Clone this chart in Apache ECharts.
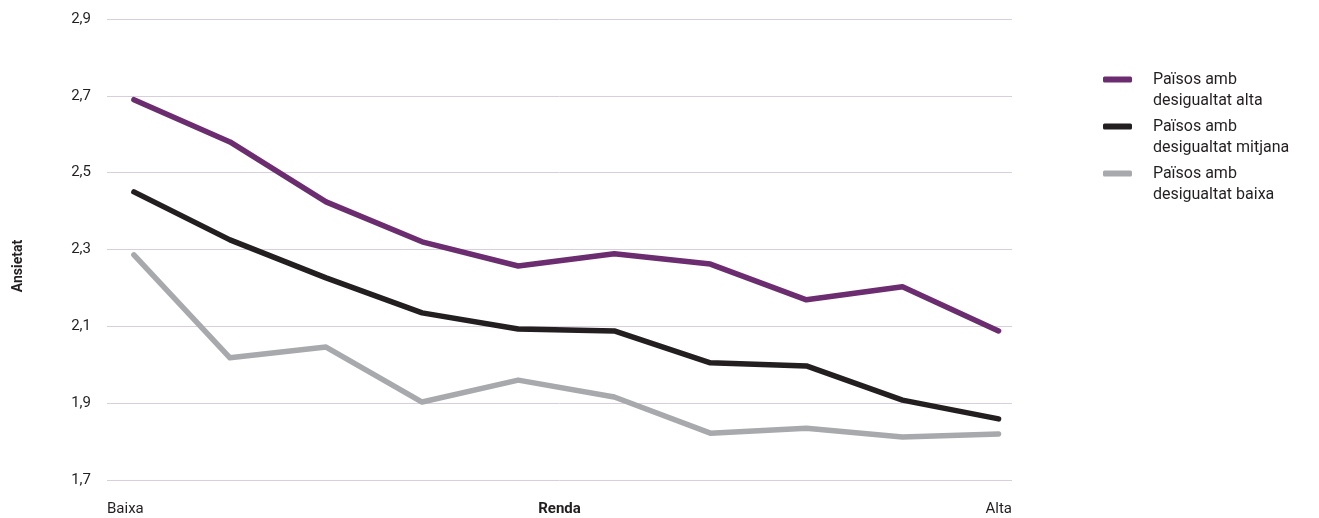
<!DOCTYPE html>
<html>
<head>
<meta charset="utf-8">
<script src="https://cdn.jsdelivr.net/npm/echarts@6/dist/echarts.min.js"></script>
<style>
    html, body { margin: 0; padding: 0; background: #fff; }
    #main { width: 1319px; height: 518px; }
</style>
</head>
<body>
<div id="main"></div>
<script>
// decils de renda, de baixa a alta
var categories = ['1', '2', '3', '4', '5', '6', '7', '8', '9', '10'];
var seriesNames = [
    'Països amb\ndesigualtat alta',
    'Països amb\ndesigualtat mitjana',
    'Països amb\ndesigualtat baixa'
];
var altaValues = [2.69, 2.58, 2.424, 2.32, 2.257, 2.289, 2.262, 2.169, 2.203, 2.088];
var mitjanaValues = [2.45, 2.325, 2.226, 2.135, 2.093, 2.088, 2.005, 1.997, 1.908, 1.859];
var baixaValues = [2.286, 2.018, 2.046, 1.903, 1.96, 1.916, 1.822, 1.835, 1.812, 1.82];
var xEndLabels = ['Baixa', 'Alta'];

var FONT = 'Roboto, "Noto Sans", sans-serif';
var TEXT_COLOR = '#231f20';
var X_MIN = -0.28;
var X_MAX = 9.14;

function toPairs(values) {
    return values.map(function (v, i) {
        return [i, v];
    });
}

function lineSeries(name, values, color) {
    return {
        name: name,
        type: 'line',
        data: toPairs(values),
        showSymbol: false,
        symbol: 'none',
        smooth: false,
        lineStyle: {
            color: color,
            width: 5.5,
            cap: 'round',
            join: 'round'
        },
        itemStyle: { color: color }
    };
}

var myChart = echarts.init(document.getElementById('main'));
var option = {
    animation: false,
    grid: {
        left: 107,
        right: 307,
        top: 19,
        bottom: 38,
        containLabel: false,
        outerBoundsMode: 'none'
    },
    legend: {
        orient: 'vertical',
        left: 1103,
        top: 48,
        padding: 0,
        itemWidth: 29,
        itemHeight: 6,
        itemGap: -16,
        icon: 'roundRect',
        data: seriesNames,
        // línia buida al davant perquè la icona quedi a l'altura de la primera línia
        formatter: function (name) {
            return '\n' + name.split('\n').map(function (s) {
                return '    ' + s;
            }).join('\n');
        },
        textStyle: {
            fontFamily: FONT,
            fontSize: 16,
            color: TEXT_COLOR,
            lineHeight: 21
        }
    },
    xAxis: {
        type: 'value',
        min: X_MIN,
        max: X_MAX,
        name: 'Renda',
        nameLocation: 'middle',
        nameGap: 22,
        nameMoveOverlap: false,
        nameTextStyle: {
            fontFamily: FONT,
            fontSize: 15,
            fontWeight: 'bold',
            color: TEXT_COLOR,
            verticalAlign: 'top'
        },
        axisLine: { show: false },
        axisTick: { show: false },
        splitLine: { show: false },
        axisLabel: {
            customValues: [X_MIN, X_MAX],
            alignMinLabel: 'left',
            alignMaxLabel: 'right',
            margin: 22,
            fontFamily: FONT,
            fontSize: 15,
            color: TEXT_COLOR,
            verticalAlign: 'top',
            formatter: function (v) {
                return v < 4 ? xEndLabels[0] : xEndLabels[1];
            }
        }
    },
    yAxis: {
        type: 'value',
        min: 1.7,
        max: 2.9,
        interval: 0.2,
        name: 'Ansietat',
        nameLocation: 'middle',
        nameGap: 82,
        nameMoveOverlap: false,
        nameTextStyle: {
            fontFamily: FONT,
            fontSize: 14,
            fontWeight: 'bold',
            color: TEXT_COLOR,
            padding: [0, 33, 0, 0]
        },
        axisLine: { show: false },
        axisTick: { show: false },
        axisLabel: {
            margin: 16,
            fontFamily: FONT,
            fontSize: 15,
            color: TEXT_COLOR,
            formatter: function (v) {
                return v.toFixed(1).replace('.', ',');
            }
        },
        splitLine: {
            lineStyle: { color: '#d9cedb', width: 1 }
        }
    },
    series: [
        lineSeries(seriesNames[2], baixaValues, '#a7a9ac'),
        lineSeries(seriesNames[1], mitjanaValues, '#231f20'),
        lineSeries(seriesNames[0], altaValues, '#6b2d6f')
    ]
};
if (option && typeof option === "object") {
    myChart.setOption(option, true);
}
</script>
</body>
</html>
